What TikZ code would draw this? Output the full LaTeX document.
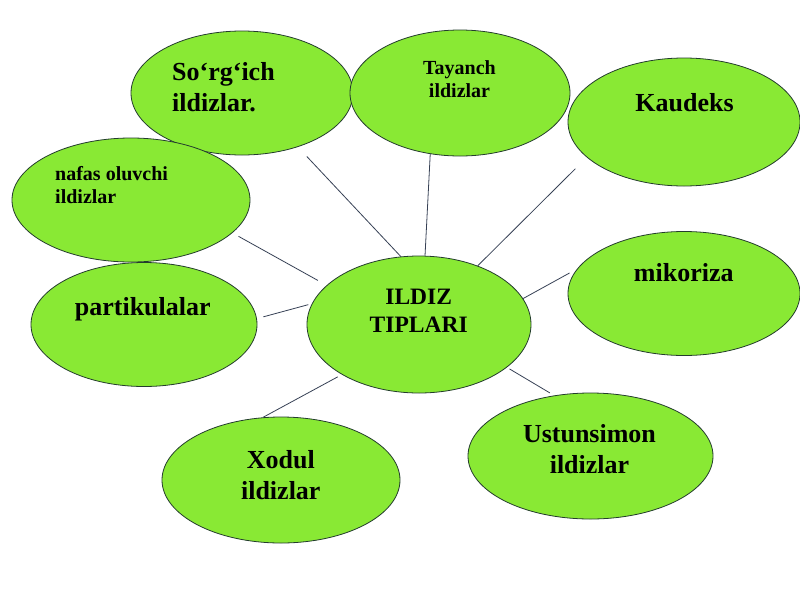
\documentclass[tikz,border=0pt]{standalone}
\usepackage{fontspec}
\setmainfont{Liberation Serif}
\usetikzlibrary{shapes.geometric}
\definecolor{leaf}{RGB}{137,233,52}
\definecolor{rim}{RGB}{35,60,45}
\definecolor{wirec}{RGB}{55,65,85}
\begin{document}
\begin{tikzpicture}[x=1pt,y=-1pt,
  blob/.style={ellipse,draw=rim,fill=leaf,line width=0.8pt,inner sep=0pt},
  lbl/.style={inner sep=0pt,text=black},
  big/.style={font=\bfseries\fontsize{26}{31}\selectfont},
  mid/.style={font=\bfseries\fontsize{23.5}{28}\selectfont},
  small/.style={font=\bfseries\fontsize{20}{23}\selectfont},
  wire/.style={draw=wirec,line width=0.8pt}]
\fill[white] (0,0) rectangle (800,600);
\useasboundingbox (0,0) rectangle (800,600);

% ellipses
\node[blob,minimum width=222pt,minimum height=124pt] (sorg) at (242,93) {};
\node[blob,minimum width=220pt,minimum height=126pt] (tay) at (460,93) {};
\node[blob,minimum width=232pt,minimum height=128pt] (kau) at (684,122) {};
\node[blob,minimum width=238pt,minimum height=124pt] (naf) at (131,200) {};
\node[blob,minimum width=226pt,minimum height=124pt] (par) at (144,324.5) {};
\node[blob,minimum width=224pt,minimum height=137pt] (ild) at (419,324.5) {};
\node[blob,minimum width=232pt,minimum height=124pt] (mik) at (684,293.5) {};
\node[blob,minimum width=245pt,minimum height=126pt] (ust) at (590.5,456) {};
\node[blob,minimum width=238pt,minimum height=126pt] (xod) at (281,480) {};

% labels
\node[lbl,big,align=left,anchor=west] (sorgt) at (172,87.4) {So‘rg‘ich\\ildizlar.};
\node[lbl,small,align=center] (tayt) at (459.5,78.7) {Tayanch\\ildizlar};
\node[lbl,big] (kaut) at (684.5,102.5) {Kaudeks};
\node[lbl,small,align=left,anchor=west] (naft) at (55,185.3) {nafas oluvchi\\ildizlar};
\node[lbl,big] (part) at (142.8,309.2) {partikulalar};
\node[lbl,mid,align=center] (ildt) at (418.7,311.2) {ILDIZ\\TIPLARI};
\node[lbl,big] (mikt) at (683.8,273) {mikoriza};
\node[lbl,big,align=center] (ustt) at (589.5,449.5) {Ustunsimon\\ildizlar};
\node[lbl,big,align=center] (xodt) at (280.8,474.7) {Xodul\\ildizlar};

% connectors
\draw[wire,shorten <=13pt] (sorg.-44.5) -- (ild.105.5);
\draw[wire] (tay.-116.2) -- (ild.85);
\draw[wire,shorten <=16pt] (kau.-160.4) -- (ild.45.5);
\draw[wire,shorten <=7pt,shorten >=10pt] (naf.-18.7) -- (ild.157.2);
\draw[wire,shorten <=6.7pt,shorten >=3.7pt] (par.3) -- (ild.169.8);
\draw[wire,shorten <=8.6pt] (mik.167.6) -- (ild.14.8);
\draw[wire,shorten <=3pt,shorten >=5pt] (ild.-26.5) -- (ust.121.5);
\draw[wire,shorten >=4.7pt] (xod.106.4) -- (ild.-147.8);
\end{tikzpicture}
\end{document}
